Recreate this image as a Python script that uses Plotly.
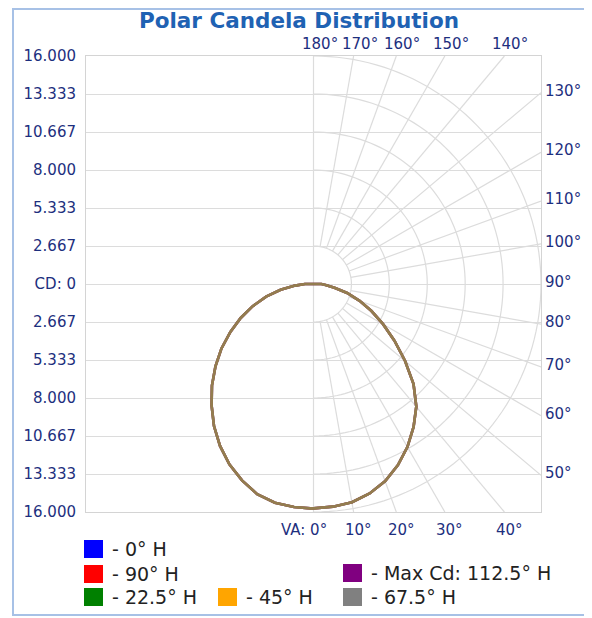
import numpy as np
import plotly.graph_objects as go

# ---------------- data ----------------
va_deg = [0, 5, 10, 15, 20, 25, 30, 35, 40, 45, 50, 55, 60, 65, 70, 75, 80, 85, 90,
          95, 100, 110, 120, 130, 140, 150, 160, 170, 180]
# candela (thousands) in the H plane (right half)
cd_right = [15.78, 15.72, 15.58, 15.25, 14.75, 14.05, 13.22, 12.27, 11.25, 9.95,
            8.40, 6.95, 5.65, 4.50, 3.45, 2.45, 1.50, 0.85, 0.55,
            0, 0, 0, 0, 0, 0, 0, 0, 0, 0]
# candela in the opposite plane (left half)
cd_left = [15.80, 15.74, 15.62, 15.30, 14.70, 14.00, 13.15, 12.20, 11.15, 10.10,
           9.00, 7.90, 6.75, 5.65, 4.55, 3.45, 2.35, 1.30, 0.60,
           0, 0, 0, 0, 0, 0, 0, 0, 0, 0]

series_names = ["0° H", "90° H", "Max Cd: 112.5° H", "22.5° H", "45° H", "67.5° H"]
series_colors = ["#0000ff", "#ff0000", "#800080", "#008000", "#ffa500", "#808080"]

cd_ticks = [16.0, 13.333, 10.667, 8.0, 5.333, 2.667, 0, -2.667, -5.333, -8.0, -10.667, -13.333, -16.0]
cd_tick_text = ["16.000", "13.333", "10.667", "8.000", "5.333", "2.667", "CD: 0",
                "2.667", "5.333", "8.000", "10.667", "13.333", "16.000"]
ring_values = [2.667, 5.333, 8.0, 10.667, 13.333, 16.0]
spoke_angles = [10, 20, 30, 40, 50, 60, 70, 80, 100, 110, 120, 130, 140, 150, 160, 170]
top_labels = [180, 170, 160, 150, 140]
right_labels = [130, 120, 110, 100, 90, 80, 70, 60, 50]
bottom_labels = [0, 10, 20, 30, 40]

# ---------------- geometry ----------------
OFF = 8  # page body margin
W, H = 584, 610
L, T = 86 - OFF, 56 - OFF
PR, PB = 541 - OFF, 512 - OFF
R, B = W - PR, H - PB
PW, PH = PR - L, PB - T
RMAX = 16.0

def px2paper(px, py):
    fx, fy = px - OFF, py - OFF
    return (fx - L) / PW, (PB - fy) / PH

TICK_COLOR = "#1d2f7e"
GRID = "#dcdcdc"
FONT = "DejaVu Sans"

fig = go.Figure()

# polar curves
theta_closed = list(va_deg) + [360 - a for a in va_deg[::-1]]
for name, col in zip(series_names, series_colors):
    r_closed = list(cd_right) + list(cd_left[::-1])
    fig.add_trace(go.Scatterpolar(
        r=r_closed, theta=theta_closed, mode="lines", name=name,
        line=dict(color=col, width=2.6),
        opacity=0.5, showlegend=False, hoverinfo="skip"))

# dummy cartesian trace to anchor axes
fig.add_trace(go.Scatter(x=[0], y=[0], mode="markers", marker=dict(opacity=0),
                         showlegend=False, hoverinfo="skip"))

shapes = []
for rv in ring_values:
    a = np.radians(np.linspace(0, 180, 91))
    xs = rv * np.sin(a)
    ys = -rv * np.cos(a)
    path = "M " + " L ".join(f"{x:.4f},{y:.4f}" for x, y in zip(xs, ys))
    shapes.append(dict(type="path", path=path, xref="x", yref="y",
                       line=dict(color=GRID, width=1.2), layer="below"))

def border_point(angle):
    a = np.radians(angle)
    dx, dy = np.sin(a), -np.cos(a)
    t = min(RMAX / abs(dx) if abs(dx) > 1e-9 else 1e9,
            RMAX / abs(dy) if abs(dy) > 1e-9 else 1e9)
    return dx * t, dy * t

for ang in spoke_angles:
    a = np.radians(ang)
    x0, y0 = ring_values[0] * np.sin(a), -ring_values[0] * np.cos(a)
    x1, y1 = border_point(ang)
    shapes.append(dict(type="line", x0=x0, y0=y0, x1=x1, y1=y1, xref="x", yref="y",
                       line=dict(color=GRID, width=1.2), layer="below"))

shapes.append(dict(type="line", x0=0, y0=-RMAX, x1=0, y1=RMAX, xref="x", yref="y",
                   line=dict(color=GRID, width=1.2), layer="below"))

# outer frame
fx0, fy0 = px2paper(13, 615)
fx1, fy1 = px2paper(587, 9)
shapes.append(dict(type="rect", x0=fx0, y0=fy0, x1=fx1, y1=fy1, xref="paper", yref="paper",
                   line=dict(color="#a7c1e6", width=2), fillcolor="rgba(0,0,0,0)", layer="below"))

annotations = []
lab_font = dict(family=FONT, size=15, color=TICK_COLOR)
for ang in top_labels:
    x1, y1 = border_point(ang)
    annotations.append(dict(x=x1, y=RMAX, xref="x", yref="y", text=f"{ang}°", showarrow=False,
                            xanchor="center", yanchor="middle", xshift=6, yshift=12, font=lab_font))
for ang in right_labels:
    x1, y1 = border_point(ang)
    annotations.append(dict(x=RMAX, y=y1, xref="x", yref="y", text=f"{ang}°", showarrow=False,
                            xanchor="left", yanchor="middle", xshift=2, yshift=2, font=lab_font))
for ang in bottom_labels:
    x1, y1 = border_point(ang)
    if ang == 0:
        annotations.append(dict(x=x1, y=-RMAX, xref="x", yref="y", text="VA: 0°", showarrow=False,
                                xanchor="right", yanchor="middle", xshift=15, yshift=-18, font=lab_font))
    else:
        annotations.append(dict(x=x1, y=-RMAX, xref="x", yref="y", text=f"{ang}°", showarrow=False,
                                xanchor="center", yanchor="middle", xshift=5, yshift=-18, font=lab_font))

# legend (custom layout)
legend_items = [
    (0, 84, 549), (1, 84, 574), (3, 84, 597), (4, 218, 597), (2, 343, 573), (5, 343, 597)
]
leg_font = dict(family=FONT, size=19, color="#222222")
for idx, sx, sy in legend_items:
    x0, y0 = px2paper(sx, sy + 9)
    x1, y1 = px2paper(sx + 19, sy - 9)
    shapes.append(dict(type="rect", x0=x0, y0=y0, x1=x1, y1=y1, xref="paper", yref="paper",
                       line=dict(width=0), fillcolor=series_colors[idx]))
    tx, ty = px2paper(sx + 26, sy)
    annotations.append(dict(x=tx, y=ty, xref="paper", yref="paper", text="- " + series_names[idx],
                            showarrow=False, xanchor="left", yanchor="middle", font=leg_font))

fig.update_layout(
    width=W, height=H,
    margin=dict(l=L, r=R, t=T, b=B, pad=0),
    paper_bgcolor="white", plot_bgcolor="white",
    title=dict(text="<b>Polar Candela Distribution</b>", x=(299 - OFF) / W, xanchor="center",
               y=1 - (20 - OFF) / H, yanchor="middle",
               font=dict(family=FONT, size=21.5, color="#1f62b3")),
    xaxis=dict(range=[-RMAX, RMAX], showgrid=False, zeroline=False, showticklabels=False,
               showline=True, mirror=True, linecolor="#d4d4d4", linewidth=1, ticks="",
               fixedrange=True),
    yaxis=dict(range=[-RMAX, RMAX], tickvals=cd_ticks, ticktext=cd_tick_text,
               showgrid=True, gridcolor=GRID, gridwidth=1.2, zeroline=False,
               showline=True, mirror=True, linecolor="#d4d4d4", linewidth=1,
               ticks="outside", ticklen=6, tickcolor="rgba(0,0,0,0)",
               tickfont=dict(family=FONT, size=15, color=TICK_COLOR), fixedrange=True),
    polar=dict(
        domain=dict(x=[0, 1], y=[0, 1]),
        bgcolor="rgba(0,0,0,0)",
        radialaxis=dict(range=[0, RMAX], visible=False),
        angularaxis=dict(rotation=270, direction="counterclockwise", visible=False),
    ),
    shapes=shapes,
    annotations=annotations,
    showlegend=False,
)

fig.write_html("out.html")
